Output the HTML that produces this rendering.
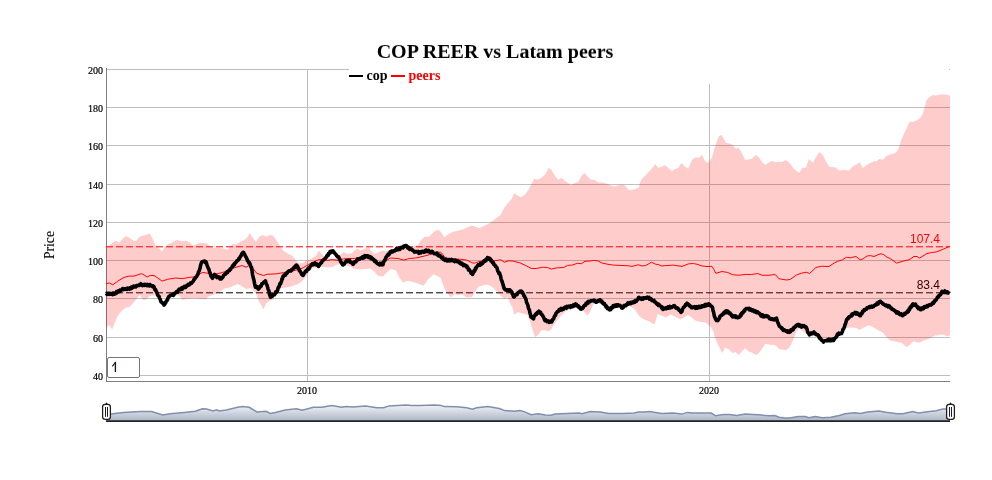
<!DOCTYPE html><html><head><meta charset="utf-8"><style>
html,body{margin:0;padding:0;background:#fff}body{width:992px;height:480px;overflow:hidden;position:relative;font-family:"Liberation Serif",serif}
.a{position:absolute;white-space:nowrap;will-change:transform}.yl{position:absolute;will-change:transform;-webkit-text-stroke:0.2px #000;left:53px;width:50px;text-align:right;font-size:10px;line-height:normal}.ll{display:inline-block;position:relative;bottom:.5ex;padding-left:1em;height:1px;border-bottom-width:2px;border-bottom-style:solid}.xl{position:absolute;will-change:transform;-webkit-text-stroke:0.2px #000;width:60px;text-align:center;font-size:10px;top:385px}
</style></head><body>
<svg width="992" height="480" viewBox="0 0 992 480" style="position:absolute;left:0;top:0;will-change:transform"><rect x="107" y="69" width="843" height="1" fill="#bebebe"/><rect x="107" y="107" width="843" height="1" fill="#bebebe"/><rect x="107" y="145" width="843" height="1" fill="#bebebe"/><rect x="107" y="184" width="843" height="1" fill="#bebebe"/><rect x="107" y="222" width="843" height="1" fill="#bebebe"/><rect x="107" y="260" width="843" height="1" fill="#bebebe"/><rect x="107" y="298" width="843" height="1" fill="#bebebe"/><rect x="107" y="337" width="843" height="1" fill="#bebebe"/><rect x="107" y="375" width="843" height="1" fill="#bebebe"/><rect x="307" y="69" width="1" height="312" fill="#bebebe"/><rect x="709" y="69" width="1" height="312" fill="#bebebe"/><rect x="106" y="68" width="1" height="314" fill="#808080"/><rect x="106" y="381" width="844" height="1" fill="#808080"/><line x1="106" y1="246.8" x2="950" y2="246.8" stroke="#ff0000" stroke-width="1" stroke-dasharray="7 3"/><line x1="106" y1="292.8" x2="950" y2="292.8" stroke="#000" stroke-width="1" stroke-dasharray="7 3"/><text x="940" y="242.6" text-anchor="end" font-family="Liberation Sans" font-size="12" fill="#ff0000">107.4</text><text x="940" y="288.6" text-anchor="end" font-family="Liberation Sans" font-size="12" fill="#000">83.4</text><path d="M106.00,246.30 L109.60,245.25 L111.50,243.60 L115.25,240.90 L116.40,241.10 L119.00,243.00 L122.00,239.60 L125.75,236.00 L128.50,237.20 L133.40,240.50 L135.90,241.10 L139.60,236.75 L144.00,235.25 L147.10,234.50 L149.60,233.25 L152.10,237.40 L155.25,244.90 L159.00,248.00 L162.10,251.50 L164.00,248.60 L167.75,244.25 L172.10,242.40 L176.50,240.10 L181.50,240.90 L186.50,241.10 L189.60,242.40 L192.75,245.50 L196.50,244.25 L199.00,243.00 L204.00,243.00 L207.10,243.60 L209.60,246.10 L212.75,247.40 L219.00,248.00 L224.00,248.60 L227.75,249.90 L229.75,247.00 L232.90,243.90 L236.00,244.50 L239.75,242.00 L244.75,239.50 L247.25,237.60 L249.75,233.00 L252.25,237.00 L256.00,242.00 L259.10,237.00 L262.25,235.10 L266.60,236.75 L269.75,235.10 L272.90,235.50 L276.00,239.50 L279.75,245.75 L283.50,250.75 L288.50,253.90 L292.25,255.75 L295.40,259.50 L298.50,263.25 L302.25,263.25 L306.00,260.75 L311.00,258.90 L316.00,255.75 L319.10,250.50 L321.00,253.25 L326.00,258.25 L333.50,259.50 L338.50,256.40 L343.50,252.00 L347.25,253.90 L351.75,253.25 L355.50,249.50 L358.00,248.90 L360.50,250.75 L364.25,248.90 L368.60,247.00 L371.10,250.75 L374.25,253.90 L379.25,252.00 L383.00,250.50 L385.50,251.40 L392.00,249.00 L398.00,248.50 L405.00,247.50 L412.00,247.00 L418.00,245.10 L420.50,240.75 L424.25,237.00 L429.25,236.40 L434.25,231.40 L438.00,229.75 L441.10,232.00 L444.25,237.60 L448.00,234.50 L453.00,231.75 L458.00,230.75 L463.00,229.50 L468.00,227.00 L471.75,225.50 L475.00,226.60 L479.40,228.25 L483.75,226.00 L488.75,223.75 L492.50,221.00 L496.25,217.90 L500.60,215.00 L504.40,207.50 L507.50,203.75 L511.25,199.40 L514.40,193.10 L517.50,195.60 L520.60,197.25 L524.40,195.00 L528.10,190.60 L531.25,184.40 L534.40,178.50 L537.50,179.75 L541.25,178.10 L545.00,174.40 L548.75,168.10 L551.25,169.40 L554.40,175.00 L558.10,180.00 L561.25,177.75 L565.00,181.00 L571.25,185.00 L575.00,182.75 L578.10,181.90 L581.25,176.25 L584.40,173.10 L588.10,176.90 L591.25,180.00 L594.50,179.75 L597.60,182.25 L602.00,182.50 L608.25,184.00 L610.75,185.60 L614.50,186.50 L618.25,185.25 L622.00,184.40 L625.10,185.60 L628.25,189.40 L631.40,190.25 L635.10,189.00 L638.90,187.50 L640.10,182.50 L642.00,178.75 L645.75,175.00 L650.10,170.60 L653.25,166.90 L655.10,164.00 L658.25,168.10 L662.00,166.50 L665.10,165.25 L668.25,168.10 L672.00,171.00 L675.10,169.00 L678.25,168.10 L681.40,163.10 L684.50,166.25 L688.25,168.75 L692.00,159.75 L695.75,157.25 L698.90,158.10 L702.00,154.75 L705.10,161.25 L708.25,163.10 L712.00,157.50 L714.00,150.00 L716.50,142.50 L719.00,136.25 L721.50,134.75 L723.40,138.10 L725.90,142.75 L730.25,143.75 L732.75,145.00 L735.90,148.75 L738.40,147.50 L741.50,152.50 L745.25,160.00 L751.50,159.00 L755.90,155.00 L759.00,157.50 L762.75,163.10 L765.25,165.00 L769.00,162.50 L772.10,161.00 L775.25,161.90 L782.10,161.90 L785.90,160.00 L789.00,162.50 L794.00,168.75 L799.00,173.10 L802.75,167.50 L805.90,167.75 L809.00,159.00 L812.75,163.10 L816.50,156.25 L819.60,151.90 L822.75,155.00 L826.50,162.50 L829.60,166.90 L835.25,167.25 L839.00,170.60 L844.00,170.00 L849.00,170.60 L852.75,166.50 L856.50,164.40 L859.60,162.25 L862.75,168.10 L866.50,165.00 L870.25,163.10 L874.00,161.25 L876.50,161.25 L879.60,158.75 L882.75,159.75 L886.50,156.00 L890.25,154.40 L895.25,153.10 L897.10,151.25 L899.00,147.50 L900.90,141.25 L903.40,135.00 L906.50,128.75 L909.60,121.50 L912.75,121.90 L916.50,120.60 L920.25,118.10 L922.75,113.75 L924.60,107.50 L926.50,100.00 L929.00,97.50 L932.75,95.00 L935.25,95.60 L937.10,95.25 L940.25,94.40 L946.50,94.40 L949.00,95.60 L950.00,96.25 L950.00,335.60 L946.50,336.25 L943.40,334.40 L940.25,334.75 L935.25,335.60 L929.00,338.75 L924.00,340.60 L919.00,342.75 L913.40,341.25 L910.25,344.40 L906.50,346.90 L901.50,342.75 L895.25,341.50 L890.25,340.60 L886.50,336.90 L882.75,332.50 L877.75,330.00 L872.75,326.90 L868.40,325.25 L864.00,327.50 L859.60,330.00 L856.50,328.10 L850.25,327.50 L845.25,328.10 L841.50,331.00 L837.00,333.00 L833.00,338.00 L828.00,338.00 L823.00,339.00 L818.00,333.00 L814.00,331.00 L809.60,338.75 L807.10,335.00 L804.00,331.90 L799.00,328.75 L796.50,331.25 L794.00,337.50 L791.50,343.75 L789.00,348.10 L785.90,350.00 L782.10,349.40 L779.00,349.00 L775.25,345.00 L770.25,344.75 L765.25,343.75 L762.10,348.75 L759.00,353.10 L755.90,355.00 L751.50,352.50 L748.40,351.25 L745.25,348.10 L742.10,351.25 L739.00,355.00 L735.25,351.90 L732.75,353.10 L729.00,349.40 L725.25,347.50 L722.10,353.10 L719.60,348.10 L716.50,341.25 L714.00,335.00 L713.90,332.00 L710.75,327.00 L705.75,322.60 L700.75,322.00 L695.75,320.75 L688.25,315.10 L680.75,319.50 L675.75,317.00 L670.75,314.50 L665.75,317.60 L662.00,315.75 L657.60,313.90 L654.50,324.50 L649.50,321.40 L643.25,318.90 L639.50,316.40 L634.50,308.90 L629.50,305.75 L623.00,305.50 L618.00,304.00 L614.00,304.00 L608.00,306.00 L603.00,302.00 L599.50,303.90 L595.75,302.60 L593.10,304.40 L590.00,311.90 L587.50,315.60 L583.75,311.25 L580.00,308.75 L575.00,307.50 L570.00,309.40 L565.00,311.90 L561.25,315.60 L557.50,320.00 L553.75,324.40 L551.25,329.40 L548.10,331.50 L545.00,330.00 L541.25,330.60 L537.50,335.60 L535.00,336.90 L532.50,329.40 L530.00,321.25 L527.50,315.00 L523.75,313.75 L517.50,311.90 L514.40,315.00 L512.50,307.50 L510.60,304.50 L507.50,297.00 L504.40,298.90 L500.00,295.10 L496.25,290.75 L492.50,287.00 L487.50,284.50 L482.50,285.50 L478.75,286.40 L475.00,292.00 L471.75,297.00 L466.75,297.60 L461.75,293.90 L458.00,295.10 L454.25,293.90 L451.10,297.60 L448.00,293.90 L444.25,288.25 L440.50,277.60 L433.60,274.25 L428.00,279.50 L423.60,285.75 L419.25,283.90 L413.00,282.00 L407.40,280.75 L403.00,282.60 L399.25,277.60 L396.10,270.50 L391.10,268.90 L386.75,272.60 L383.00,276.40 L378.00,276.00 L374.25,271.40 L370.50,268.50 L363.00,269.25 L355.50,269.25 L349.75,266.40 L346.00,265.10 L339.75,263.90 L336.00,265.10 L332.25,267.00 L327.25,267.60 L323.50,267.00 L317.25,267.00 L312.25,268.25 L308.50,272.60 L304.75,278.25 L301.00,282.00 L297.25,284.50 L291.00,286.40 L286.00,287.60 L281.00,288.25 L276.00,294.50 L273.50,299.50 L269.75,300.75 L266.00,303.25 L263.50,309.50 L261.00,304.50 L258.50,300.75 L256.00,293.25 L251.00,288.25 L246.00,288.90 L242.25,286.40 L237.25,283.90 L231.00,287.00 L227.75,288.10 L224.00,288.75 L219.00,291.90 L214.00,294.40 L209.00,296.25 L205.25,299.40 L201.50,298.75 L194.00,298.10 L186.50,298.75 L182.75,300.00 L179.00,295.60 L170.25,295.00 L165.00,297.50 L160.00,297.00 L155.25,295.60 L150.25,295.60 L148.40,297.50 L145.25,300.00 L142.75,299.40 L139.60,295.00 L137.10,298.10 L134.00,301.90 L129.00,307.50 L126.50,306.90 L122.75,310.00 L119.00,313.75 L115.25,321.25 L112.10,329.40 L109.60,325.00 L106.00,327.50 Z" fill="rgba(255,0,0,0.2)"/><polyline points="106.00,283.60 109.60,283.00 112.75,284.90 117.75,281.10 124.00,277.40 129.00,276.10 134.00,276.10 141.50,273.60 144.00,274.90 147.10,277.00 150.25,275.50 154.00,275.50 157.75,278.00 162.10,281.10 167.75,279.25 175.25,278.00 182.75,278.60 189.00,277.40 195.25,276.75 199.00,274.25 202.75,272.40 207.75,273.25 212.75,274.90 217.75,273.60 222.75,272.40 226.50,271.00 231.00,268.90 236.00,267.25 242.25,265.50 246.00,267.25 249.75,265.10 252.90,268.25 256.60,273.25 263.50,275.50 267.25,274.25 276.00,273.90 283.50,272.60 291.00,271.40 298.50,269.50 303.50,267.60 308.50,264.50 313.50,262.00 318.50,259.75 323.50,259.50 327.25,260.50 332.25,259.50 338.50,260.50 343.50,258.90 349.75,258.50 354.25,258.50 360.50,257.25 366.75,256.40 371.75,258.90 376.75,262.60 381.75,262.25 385.50,260.75 390.50,258.00 398.00,258.50 403.60,260.10 409.25,258.50 415.50,258.00 423.00,256.40 429.25,254.75 435.50,252.00 440.50,252.25 443.00,254.50 444.90,257.60 451.75,258.90 460.50,259.25 466.75,260.10 471.75,262.60 474.40,263.25 478.75,261.60 483.75,260.75 488.75,259.75 495.00,260.75 500.60,259.75 504.40,262.25 508.75,260.75 513.75,261.25 520.00,262.90 526.25,265.75 531.25,268.50 536.25,268.50 542.50,267.25 547.50,267.50 551.25,269.10 556.25,267.90 563.75,267.50 567.50,265.40 572.50,265.00 577.50,263.25 581.25,263.75 585.00,261.25 590.00,261.00 593.75,260.40 598.25,261.00 602.00,263.00 607.00,264.10 613.25,265.10 622.00,265.50 628.25,265.75 632.00,266.40 638.25,264.75 642.00,266.00 645.75,265.50 651.40,262.25 655.75,264.25 658.25,264.50 661.40,266.00 667.00,265.50 673.25,265.10 682.00,266.40 688.25,263.90 693.25,263.50 697.00,264.25 702.00,266.00 707.00,266.50 712.00,266.40 713.90,269.50 715.75,273.25 722.10,271.50 727.75,272.50 732.75,274.75 739.00,275.25 745.25,274.40 751.50,274.50 757.75,273.50 762.10,275.25 769.00,275.25 775.25,274.50 779.00,278.75 786.50,280.00 790.25,279.40 796.50,275.00 801.50,273.10 806.50,272.25 809.60,273.50 815.90,267.50 821.50,266.25 829.00,266.50 834.00,263.10 837.75,261.25 842.10,260.00 846.50,257.25 850.25,257.75 855.90,256.50 860.25,259.75 862.75,259.00 867.10,256.00 870.25,255.60 874.00,256.50 880.25,253.75 883.40,254.40 887.10,257.25 890.25,258.50 896.50,263.10 902.75,261.25 909.00,259.75 914.00,256.50 917.10,256.50 919.60,258.10 926.50,253.75 931.50,252.50 936.50,251.90 942.75,249.40 949.60,246.25" fill="none" stroke="#ff0000" stroke-width="1" stroke-linejoin="round"/><polyline points="106.00,293.68 106.50,293.41 107.00,294.34 107.50,293.34 108.00,294.21 108.50,293.94 109.00,293.42 109.50,294.27 110.00,293.46 110.50,294.21 111.00,293.59 111.50,293.66 112.00,294.07 112.50,294.61 113.00,293.15 113.50,293.14 114.00,293.68 114.50,294.07 115.00,293.21 115.50,292.69 116.00,293.55 116.50,291.68 117.00,292.90 117.50,291.63 118.00,291.12 118.50,290.82 119.00,290.92 119.50,291.58 120.00,290.19 120.50,290.66 121.00,290.52 121.50,289.79 122.00,289.86 122.50,288.74 123.00,288.57 123.50,288.76 124.00,289.54 124.50,289.02 125.00,288.74 125.50,289.16 126.00,288.85 126.50,288.50 127.00,289.32 127.50,289.07 128.00,288.18 128.50,288.71 129.00,288.55 129.50,289.02 130.00,288.59 130.50,287.64 131.00,288.72 131.50,287.01 132.00,287.39 132.50,287.84 133.00,286.59 133.50,287.04 134.00,286.07 134.50,287.00 135.00,286.98 135.50,286.43 136.00,286.78 136.50,285.56 137.00,286.05 137.50,285.67 138.00,285.44 138.50,285.02 139.00,285.51 139.50,285.50 140.00,284.45 140.50,284.74 141.00,283.74 141.50,284.98 142.00,284.96 142.50,285.67 143.00,285.45 143.50,284.56 144.00,284.83 144.50,285.43 145.00,284.35 145.50,285.18 146.00,284.65 146.50,284.56 147.00,284.46 147.50,285.73 148.00,284.58 148.50,284.80 149.00,285.05 149.50,285.92 150.00,284.50 150.50,285.16 151.00,285.34 151.50,285.94 152.00,286.15 152.50,286.57 153.00,285.84 153.50,286.42 154.00,286.65 154.50,288.67 155.00,289.88 155.50,289.51 156.00,290.64 156.50,291.82 157.00,292.90 157.50,294.43 158.00,295.62 158.50,295.95 159.00,296.41 159.50,298.07 160.00,298.90 160.50,300.18 161.00,301.80 161.50,302.24 162.00,302.43 162.50,303.11 163.00,303.72 163.50,303.10 164.00,305.12 164.50,304.29 165.00,303.85 165.50,303.10 166.00,301.75 166.50,301.15 167.00,300.01 167.50,300.06 168.00,298.06 168.50,297.09 169.00,296.38 169.50,296.04 170.00,296.11 170.50,295.34 171.00,295.00 171.50,295.02 172.00,294.68 172.50,294.90 173.00,294.05 173.50,295.32 174.00,294.61 174.50,293.33 175.00,293.07 175.50,292.81 176.00,292.40 176.50,291.52 177.00,292.39 177.50,292.21 178.00,290.82 178.50,290.41 179.00,289.25 179.50,289.03 180.00,289.22 180.50,288.83 181.00,289.59 181.50,288.14 182.00,287.64 182.50,289.06 183.00,288.05 183.50,287.11 184.00,287.58 184.50,286.35 185.00,286.95 185.50,287.46 186.00,286.95 186.50,286.35 187.00,285.27 187.50,285.16 188.00,284.50 188.50,285.29 189.00,284.56 189.50,284.70 190.00,283.59 190.50,282.99 191.00,283.52 191.50,283.30 192.00,282.53 192.50,281.92 193.00,281.43 193.50,280.79 194.00,279.37 194.50,279.41 195.00,278.62 195.50,277.54 196.00,277.04 196.50,277.00 197.00,275.59 197.50,274.99 198.00,274.08 198.50,271.79 199.00,271.29 199.50,269.88 200.00,268.32 200.50,265.76 201.00,264.00 201.50,262.51 202.00,261.95 202.50,261.47 203.00,261.72 203.50,261.72 204.00,261.11 204.50,260.96 205.00,261.78 205.50,262.54 206.00,261.75 206.50,263.29 207.00,265.15 207.50,266.33 208.00,267.68 208.50,268.61 209.00,269.48 209.50,271.99 210.00,272.45 210.50,274.54 211.00,276.10 211.50,276.31 212.00,277.57 212.50,278.31 213.00,277.29 213.50,275.67 214.00,274.97 214.50,274.40 215.00,275.92 215.50,276.12 216.00,275.30 216.50,276.89 217.00,277.54 217.50,277.23 218.00,276.92 218.50,277.52 219.00,277.01 219.50,277.04 220.00,279.01 220.50,278.67 221.00,278.55 221.50,278.78 222.00,277.38 222.50,277.67 223.00,277.09 223.50,275.48 224.00,275.05 224.50,274.63 225.00,274.03 225.50,274.16 226.00,273.07 226.50,272.85 227.00,271.81 227.50,272.68 228.00,271.15 228.50,270.81 229.00,270.51 229.50,270.56 230.00,269.16 230.50,269.53 231.00,268.25 231.50,267.81 232.00,267.29 232.50,265.88 233.00,266.14 233.50,265.18 234.00,264.11 234.50,264.79 235.00,262.91 235.50,262.70 236.00,262.41 236.50,261.60 237.00,260.69 237.50,260.53 238.00,260.10 238.50,260.01 239.00,258.29 239.50,258.61 240.00,257.25 240.50,256.22 241.00,256.02 241.50,254.46 242.00,253.47 242.50,252.74 243.00,252.31 243.50,252.30 244.00,253.45 244.50,254.09 245.00,255.02 245.50,256.35 246.00,256.91 246.50,258.06 247.00,258.96 247.50,260.69 248.00,261.05 248.50,262.16 249.00,263.07 249.50,262.64 250.00,263.97 250.50,265.62 251.00,267.02 251.50,267.35 252.00,270.53 252.50,274.32 253.00,276.61 253.50,278.79 254.00,280.37 254.50,283.32 255.00,285.41 255.50,287.17 256.00,286.14 256.50,287.45 257.00,287.64 257.50,287.01 258.00,288.64 258.50,289.09 259.00,287.17 259.50,287.90 260.00,286.33 260.50,285.91 261.00,286.23 261.50,285.37 262.00,283.58 262.50,283.58 263.00,283.33 263.50,282.62 264.00,281.96 264.50,281.79 265.00,282.12 265.50,280.81 266.00,283.14 266.50,284.31 267.00,284.92 267.50,286.85 268.00,288.80 268.50,290.23 269.00,291.05 269.50,294.34 270.00,295.62 270.50,297.21 271.00,295.44 271.50,295.52 272.00,294.90 272.50,296.02 273.00,294.90 273.50,294.43 274.00,294.38 274.50,294.68 275.00,293.93 275.50,292.35 276.00,291.57 276.50,292.37 277.00,291.17 277.50,290.53 278.00,288.26 278.50,287.04 279.00,287.01 279.50,285.37 280.00,283.56 280.50,283.96 281.00,282.24 281.50,281.29 282.00,278.75 282.50,278.89 283.00,276.22 283.50,276.40 284.00,275.29 284.50,274.71 285.00,274.72 285.50,275.02 286.00,273.46 286.50,272.83 287.00,273.17 287.50,272.28 288.00,271.67 288.50,271.39 289.00,270.88 289.50,270.84 290.00,270.73 290.50,270.41 291.00,270.92 291.50,269.76 292.00,269.83 292.50,268.94 293.00,268.93 293.50,268.03 294.00,267.84 294.50,266.80 295.00,267.48 295.50,266.54 296.00,265.28 296.50,265.18 297.00,266.60 297.50,266.01 298.00,268.19 298.50,268.39 299.00,269.40 299.50,270.90 300.00,270.90 300.50,271.80 301.00,272.81 301.50,274.04 302.00,273.57 302.50,275.15 303.00,275.36 303.50,274.66 304.00,273.66 304.50,272.99 305.00,271.88 305.50,271.45 306.00,270.76 306.50,271.40 307.00,269.95 307.50,269.21 308.00,268.51 308.50,269.31 309.00,268.81 309.50,267.89 310.00,266.63 310.50,266.00 311.00,265.53 311.50,265.27 312.00,264.16 312.50,264.28 313.00,263.70 313.50,264.71 314.00,264.48 314.50,263.46 315.00,263.00 315.50,264.72 316.00,263.96 316.50,264.46 317.00,264.24 317.50,265.35 318.00,265.93 318.50,266.40 319.00,265.28 319.50,265.24 320.00,263.75 320.50,263.63 321.00,262.73 321.50,262.70 322.00,261.47 322.50,260.81 323.00,260.65 323.50,259.85 324.00,259.82 324.50,259.05 325.00,258.78 325.50,257.95 326.00,257.39 326.50,257.12 327.00,255.69 327.50,255.01 328.00,255.64 328.50,253.58 329.00,254.06 329.50,253.35 330.00,251.71 330.50,252.58 331.00,252.13 331.50,251.09 332.00,251.41 332.50,251.84 333.00,250.92 333.50,251.91 334.00,252.17 334.50,253.06 335.00,253.48 335.50,254.19 336.00,254.42 336.50,255.64 337.00,255.93 337.50,256.61 338.00,256.45 338.50,256.76 339.00,257.79 339.50,259.05 340.00,259.45 340.50,261.61 341.00,261.97 341.50,262.94 342.00,263.79 342.50,264.74 343.00,264.96 343.50,263.49 344.00,264.32 344.50,263.64 345.00,262.60 345.50,262.06 346.00,261.69 346.50,260.53 347.00,261.65 347.50,260.69 348.00,260.29 348.50,260.54 349.00,261.29 349.50,260.26 350.00,261.42 350.50,262.33 351.00,261.95 351.50,262.23 352.00,262.89 352.50,263.75 353.00,264.38 353.50,263.67 354.00,263.28 354.50,261.82 355.00,261.51 355.50,261.26 356.00,261.70 356.50,260.47 357.00,260.50 357.50,259.06 358.00,258.71 358.50,258.87 359.00,259.38 359.50,259.20 360.00,258.96 360.50,258.05 361.00,258.24 361.50,257.94 362.00,257.73 362.50,256.88 363.00,258.07 363.50,256.60 364.00,257.79 364.50,257.50 365.00,255.63 365.50,256.21 366.00,256.65 366.50,256.70 367.00,255.79 367.50,255.71 368.00,255.86 368.50,257.43 369.00,256.36 369.50,257.28 370.00,256.74 370.50,257.68 371.00,258.71 371.50,257.48 372.00,258.97 372.50,258.66 373.00,259.60 373.50,259.83 374.00,259.54 374.50,261.30 375.00,261.12 375.50,260.84 376.00,261.37 376.50,262.81 377.00,263.29 377.50,263.58 378.00,263.85 378.50,264.16 379.00,264.05 379.50,264.93 380.00,263.36 380.50,264.65 381.00,264.75 381.50,263.40 382.00,264.79 382.50,264.34 383.00,264.62 383.50,262.39 384.00,261.41 384.50,260.32 385.00,260.28 385.50,258.41 386.00,257.37 386.50,256.87 387.00,255.97 387.50,254.94 388.00,254.41 388.50,255.10 389.00,253.49 389.50,254.03 390.00,252.17 390.50,251.58 391.00,251.79 391.50,250.99 392.00,251.10 392.50,251.92 393.00,251.57 393.50,251.21 394.00,250.66 394.50,250.94 395.00,250.77 395.50,249.84 396.00,250.03 396.50,248.71 397.00,249.83 397.50,249.21 398.00,249.64 398.50,249.33 399.00,248.57 399.50,247.96 400.00,249.29 400.50,247.60 401.00,247.97 401.50,247.48 402.00,247.15 402.50,247.69 403.00,247.87 403.50,246.33 404.00,246.79 404.50,245.90 405.00,246.11 405.50,245.56 406.00,245.48 406.50,245.81 407.00,246.22 407.50,247.81 408.00,247.41 408.50,247.25 409.00,248.81 409.50,249.33 410.00,248.71 410.50,248.52 411.00,248.98 411.50,249.16 412.00,249.98 412.50,249.90 413.00,250.53 413.50,250.69 414.00,251.38 414.50,252.08 415.00,251.96 415.50,251.48 416.00,251.61 416.50,251.94 417.00,251.80 417.50,251.86 418.00,251.49 418.50,252.01 419.00,253.38 419.50,251.86 420.00,252.42 420.50,252.52 421.00,252.82 421.50,251.53 422.00,251.51 422.50,251.35 423.00,251.49 423.50,251.45 424.00,252.25 424.50,251.93 425.00,251.85 425.50,250.20 426.00,250.09 426.50,251.19 427.00,251.52 427.50,250.89 428.00,251.22 428.50,250.29 429.00,251.12 429.50,252.21 430.00,252.15 430.50,252.33 431.00,252.66 431.50,251.48 432.00,251.39 432.50,251.66 433.00,252.52 433.50,252.99 434.00,253.65 434.50,253.44 435.00,253.50 435.50,253.90 436.00,253.54 436.50,253.90 437.00,253.24 437.50,254.91 438.00,254.25 438.50,255.82 439.00,255.66 439.50,255.38 440.00,255.40 440.50,255.95 441.00,257.14 441.50,257.74 442.00,257.18 442.50,257.60 443.00,258.91 443.50,259.51 444.00,259.65 444.50,259.60 445.00,260.28 445.50,259.22 446.00,259.74 446.50,260.03 447.00,260.93 447.50,260.36 448.00,260.79 448.50,260.06 449.00,259.62 449.50,259.64 450.00,260.93 450.50,260.47 451.00,259.84 451.50,259.41 452.00,260.36 452.50,260.76 453.00,260.39 453.50,260.18 454.00,261.01 454.50,261.56 455.00,260.39 455.50,260.13 456.00,260.76 456.50,261.00 457.00,261.56 457.50,260.77 458.00,261.93 458.50,262.14 459.00,262.03 459.50,261.80 460.00,263.49 460.50,262.61 461.00,263.84 461.50,263.09 462.00,263.38 462.50,264.66 463.00,264.13 463.50,265.57 464.00,265.00 464.50,264.70 465.00,265.02 465.50,265.62 466.00,266.32 466.50,267.08 467.00,266.16 467.50,267.40 468.00,267.87 468.50,270.03 469.00,269.33 469.50,269.96 470.00,270.69 470.50,271.69 471.00,273.01 471.50,273.38 472.00,273.52 472.50,274.40 473.00,273.53 473.50,271.69 474.00,270.68 474.50,271.28 475.00,270.19 475.50,268.16 476.00,268.55 476.50,267.28 477.00,266.52 477.50,265.70 478.00,265.09 478.50,264.49 479.00,264.67 479.50,264.49 480.00,265.27 480.50,263.46 481.00,264.67 481.50,262.99 482.00,262.95 482.50,263.48 483.00,263.03 483.50,261.89 484.00,260.75 484.50,261.07 485.00,260.44 485.50,260.98 486.00,259.22 486.50,259.08 487.00,259.60 487.50,257.59 488.00,257.83 488.50,258.79 489.00,259.11 489.50,258.22 490.00,258.61 490.50,259.07 491.00,261.02 491.50,260.24 492.00,261.59 492.50,262.58 493.00,262.29 493.50,262.89 494.00,264.84 494.50,264.95 495.00,265.03 495.50,266.56 496.00,266.56 496.50,267.35 497.00,267.87 497.50,270.22 498.00,271.52 498.50,272.02 499.00,273.58 499.50,272.93 500.00,274.31 500.50,275.75 501.00,278.35 501.50,280.25 502.00,281.14 502.50,282.80 503.00,284.61 503.50,286.21 504.00,288.48 504.50,288.37 505.00,289.68 505.50,289.76 506.00,290.10 506.50,290.20 507.00,290.10 507.50,289.79 508.00,289.88 508.50,290.06 509.00,290.92 509.50,289.76 510.00,290.08 510.50,291.18 511.00,291.01 511.50,291.58 512.00,292.42 512.50,294.25 513.00,294.74 513.50,296.82 514.00,296.94 514.50,296.83 515.00,295.22 515.50,294.60 516.00,294.32 516.50,294.74 517.00,294.76 517.50,293.68 518.00,292.69 518.50,292.41 519.00,292.18 519.50,291.67 520.00,291.20 520.50,291.74 521.00,291.79 521.50,291.18 522.00,292.84 522.50,292.23 523.00,293.74 523.50,294.40 524.00,296.08 524.50,296.12 525.00,297.23 525.50,298.24 526.00,299.46 526.50,302.26 527.00,303.20 527.50,304.23 528.00,305.84 528.50,308.39 529.00,309.14 529.50,310.39 530.00,313.18 530.50,314.65 531.00,317.01 531.50,316.42 532.00,317.35 532.50,318.24 533.00,318.55 533.50,318.95 534.00,316.52 534.50,316.12 535.00,314.95 535.50,314.22 536.00,314.78 536.50,313.48 537.00,313.75 537.50,312.40 538.00,312.94 538.50,311.84 539.00,311.15 539.50,311.94 540.00,312.96 540.50,312.16 541.00,313.75 541.50,314.50 542.00,314.49 542.50,315.66 543.00,316.15 543.50,317.17 544.00,318.16 544.50,319.68 545.00,320.67 545.50,320.07 546.00,319.92 546.50,320.69 547.00,321.52 547.50,320.83 548.00,321.26 548.50,321.17 549.00,322.35 549.50,322.01 550.00,321.24 550.50,321.42 551.00,322.06 551.50,322.01 552.00,321.42 552.50,319.67 553.00,319.05 553.50,319.02 554.00,317.48 554.50,316.21 555.00,315.22 555.50,315.35 556.00,313.16 556.50,313.00 557.00,312.01 557.50,311.50 558.00,311.68 558.50,311.30 559.00,309.77 559.50,309.31 560.00,310.11 560.50,309.01 561.00,308.49 561.50,309.94 562.00,308.92 562.50,309.48 563.00,308.54 563.50,309.21 564.00,308.26 564.50,307.53 565.00,307.08 565.50,307.85 566.00,307.82 566.50,308.12 567.00,306.45 567.50,307.22 568.00,306.69 568.50,306.85 569.00,306.12 569.50,306.29 570.00,306.64 570.50,307.29 571.00,305.74 571.50,306.28 572.00,306.63 572.50,306.72 573.00,305.12 573.50,304.78 574.00,306.04 574.50,305.89 575.00,304.79 575.50,303.81 576.00,305.17 576.50,304.34 577.00,305.77 577.50,305.75 578.00,306.61 578.50,305.91 579.00,307.53 579.50,307.01 580.00,307.83 580.50,308.92 581.00,309.19 581.50,308.33 582.00,308.69 582.50,308.32 583.00,307.83 583.50,306.89 584.00,305.72 584.50,305.24 585.00,305.40 585.50,305.30 586.00,303.35 586.50,303.87 587.00,303.81 587.50,302.10 588.00,303.13 588.50,301.42 589.00,301.99 589.50,301.71 590.00,301.66 590.50,300.90 591.00,300.92 591.50,301.02 592.00,300.55 592.50,300.79 593.00,300.59 593.50,300.76 594.00,300.20 594.50,301.46 595.00,301.41 595.50,301.14 596.00,302.28 596.50,302.32 597.00,301.56 597.50,300.89 598.00,301.25 598.50,300.41 599.00,300.28 599.50,300.65 600.00,299.87 600.50,300.91 601.00,301.45 601.50,301.02 602.00,302.50 602.50,301.92 603.00,303.51 603.50,304.00 604.00,304.05 604.50,303.76 605.00,305.11 605.50,305.41 606.00,306.98 606.50,306.05 607.00,307.88 607.50,308.66 608.00,308.72 608.50,309.09 609.00,308.20 609.50,309.84 610.00,309.19 610.50,309.60 611.00,309.11 611.50,307.33 612.00,308.03 612.50,307.87 613.00,305.89 613.50,305.98 614.00,306.43 614.50,305.27 615.00,306.51 615.50,305.31 616.00,306.20 616.50,304.91 617.00,305.47 617.50,306.14 618.00,304.77 618.50,305.12 619.00,305.80 619.50,305.71 620.00,305.44 620.50,305.95 621.00,306.16 621.50,307.80 622.00,307.58 622.50,308.21 623.00,306.53 623.50,307.27 624.00,305.70 624.50,306.08 625.00,305.90 625.50,305.03 626.00,305.58 626.50,304.64 627.00,304.32 627.50,304.49 628.00,302.72 628.50,304.09 629.00,303.33 629.50,302.81 630.00,303.44 630.50,302.38 631.00,303.58 631.50,302.74 632.00,302.25 632.50,302.88 633.00,302.20 633.50,301.62 634.00,302.54 634.50,301.19 635.00,302.15 635.50,300.70 636.00,300.97 636.50,301.17 637.00,300.02 637.50,299.74 638.00,298.68 638.50,297.69 639.00,297.43 639.50,297.71 640.00,298.62 640.50,298.37 641.00,298.59 641.50,299.35 642.00,298.05 642.50,298.30 643.00,299.14 643.50,297.98 644.00,297.81 644.50,298.31 645.00,297.74 645.50,298.06 646.00,297.69 646.50,298.21 647.00,298.09 647.50,297.26 648.00,297.89 648.50,297.71 649.00,297.42 649.50,299.17 650.00,298.24 650.50,298.39 651.00,298.60 651.50,299.90 652.00,300.63 652.50,300.79 653.00,300.42 653.50,300.51 654.00,300.43 654.50,301.95 655.00,302.17 655.50,302.17 656.00,303.07 656.50,303.09 657.00,304.35 657.50,304.36 658.00,303.86 658.50,305.45 659.00,304.34 659.50,305.66 660.00,305.87 660.50,306.01 661.00,306.13 661.50,307.86 662.00,306.92 662.50,308.33 663.00,309.47 663.50,308.19 664.00,308.16 664.50,308.77 665.00,308.46 665.50,308.57 666.00,308.75 666.50,307.47 667.00,307.58 667.50,307.44 668.00,306.85 668.50,308.25 669.00,307.97 669.50,307.75 670.00,306.38 670.50,307.79 671.00,307.51 671.50,306.91 672.00,307.32 672.50,306.70 673.00,306.19 673.50,305.88 674.00,306.01 674.50,305.57 675.00,306.44 675.50,307.52 676.00,307.75 676.50,308.35 677.00,308.45 677.50,307.98 678.00,308.83 678.50,309.03 679.00,310.16 679.50,310.17 680.00,310.20 680.50,311.37 681.00,312.44 681.50,311.29 682.00,311.47 682.50,308.91 683.00,308.34 683.50,307.29 684.00,307.20 684.50,306.55 685.00,305.79 685.50,304.63 686.00,305.22 686.50,303.83 687.00,303.26 687.50,304.06 688.00,303.88 688.50,304.49 689.00,304.93 689.50,305.99 690.00,305.56 690.50,306.72 691.00,306.96 691.50,307.66 692.00,306.97 692.50,307.56 693.00,307.35 693.50,306.94 694.00,306.84 694.50,307.65 695.00,306.74 695.50,308.30 696.00,306.93 696.50,306.66 697.00,306.74 697.50,308.16 698.00,307.05 698.50,306.63 699.00,306.36 699.50,306.32 700.00,307.44 700.50,307.27 701.00,307.26 701.50,307.14 702.00,305.74 702.50,306.50 703.00,305.90 703.50,306.53 704.00,306.34 704.50,306.28 705.00,304.60 705.50,305.86 706.00,305.81 706.50,305.80 707.00,304.22 707.50,304.33 708.00,304.09 708.50,303.88 709.00,305.28 709.50,305.14 710.00,304.76 710.50,305.69 711.00,306.09 711.50,306.22 712.00,306.63 712.50,307.38 713.00,310.56 713.50,311.86 714.00,314.37 714.50,316.86 715.00,317.38 715.50,319.04 716.00,319.70 716.50,320.45 717.00,319.80 717.50,319.69 718.00,320.50 718.50,319.01 719.00,318.97 719.50,317.88 720.00,316.16 720.50,316.18 721.00,315.55 721.50,315.49 722.00,314.35 722.50,314.62 723.00,313.94 723.50,312.99 724.00,313.78 724.50,312.01 725.00,312.95 725.50,311.41 726.00,310.73 726.50,310.71 727.00,312.02 727.50,312.71 728.00,311.25 728.50,312.43 729.00,312.73 729.50,313.57 730.00,312.93 730.50,313.99 731.00,314.22 731.50,315.60 732.00,315.07 732.50,316.80 733.00,315.91 733.50,315.89 734.00,316.86 734.50,316.60 735.00,316.00 735.50,317.05 736.00,316.15 736.50,317.52 737.00,317.45 737.50,317.72 738.00,317.53 738.50,317.14 739.00,317.32 739.50,316.64 740.00,316.87 740.50,314.76 741.00,315.53 741.50,313.31 742.00,312.97 742.50,312.41 743.00,312.93 743.50,311.62 744.00,310.82 744.50,311.14 745.00,309.38 745.50,309.20 746.00,308.74 746.50,308.56 747.00,308.75 747.50,308.74 748.00,308.40 748.50,308.55 749.00,308.43 749.50,309.86 750.00,309.72 750.50,310.06 751.00,309.22 751.50,309.89 752.00,310.69 752.50,310.54 753.00,309.93 753.50,310.73 754.00,311.69 754.50,310.73 755.00,310.84 755.50,311.24 756.00,312.17 756.50,312.62 757.00,311.58 757.50,311.78 758.00,312.25 758.50,312.81 759.00,313.57 759.50,313.34 760.00,314.05 760.50,314.21 761.00,316.04 761.50,316.01 762.00,314.95 762.50,316.56 763.00,315.08 763.50,315.65 764.00,316.80 764.50,316.52 765.00,316.47 765.50,316.00 766.00,315.64 766.50,316.50 767.00,315.86 767.50,316.35 768.00,316.99 768.50,316.67 769.00,317.64 769.50,318.66 770.00,318.80 770.50,318.77 771.00,319.32 771.50,319.33 772.00,318.69 772.50,319.46 773.00,319.03 773.50,319.57 774.00,319.81 774.50,318.88 775.00,319.08 775.50,319.33 776.00,318.67 776.50,318.26 777.00,320.36 777.50,321.85 778.00,322.87 778.50,323.95 779.00,325.43 779.50,326.33 780.00,326.90 780.50,327.06 781.00,327.30 781.50,328.36 782.00,327.89 782.50,328.97 783.00,330.11 783.50,330.42 784.00,330.44 784.50,329.92 785.00,330.41 785.50,330.63 786.00,331.10 786.50,330.89 787.00,331.54 787.50,332.17 788.00,330.99 788.50,332.01 789.00,332.40 789.50,331.37 790.00,331.22 790.50,331.75 791.00,329.74 791.50,330.31 792.00,329.29 792.50,330.07 793.00,329.91 793.50,328.57 794.00,327.25 794.50,327.52 795.00,326.89 795.50,326.63 796.00,325.69 796.50,325.34 797.00,325.11 797.50,324.61 798.00,324.62 798.50,325.79 799.00,324.68 799.50,325.74 800.00,325.43 800.50,326.30 801.00,325.36 801.50,327.12 802.00,326.06 802.50,325.60 803.00,326.07 803.50,326.36 804.00,325.74 804.50,326.55 805.00,326.62 805.50,327.20 806.00,326.88 806.50,327.93 807.00,329.07 807.50,331.21 808.00,332.77 808.50,333.24 809.00,333.89 809.50,334.75 810.00,333.83 810.50,333.31 811.00,332.97 811.50,333.95 812.00,333.82 812.50,333.31 813.00,332.82 813.50,332.80 814.00,332.01 814.50,333.67 815.00,332.90 815.50,333.75 816.00,334.41 816.50,334.74 817.00,334.44 817.50,334.46 818.00,335.43 818.50,335.36 819.00,337.33 819.50,337.15 820.00,338.74 820.50,338.38 821.00,339.26 821.50,339.73 822.00,340.73 822.50,340.99 823.00,340.91 823.50,342.01 824.00,341.03 824.50,340.78 825.00,340.69 825.50,340.82 826.00,340.54 826.50,340.72 827.00,340.57 827.50,339.85 828.00,340.77 828.50,340.64 829.00,339.20 829.50,340.59 830.00,340.73 830.50,340.51 831.00,339.35 831.50,340.60 832.00,340.24 832.50,339.13 833.00,339.00 833.50,340.44 834.00,339.66 834.50,338.68 835.00,338.16 835.50,337.65 836.00,336.91 836.50,336.97 837.00,335.29 837.50,334.03 838.00,334.83 838.50,334.44 839.00,333.12 839.50,334.23 840.00,333.53 840.50,333.64 841.00,333.25 841.50,333.46 842.00,332.27 842.50,331.36 843.00,329.21 843.50,329.10 844.00,327.81 844.50,326.69 845.00,324.64 845.50,323.94 846.00,321.85 846.50,319.83 847.00,319.27 847.50,318.60 848.00,318.74 848.50,317.46 849.00,317.69 849.50,316.61 850.00,316.73 850.50,316.27 851.00,315.88 851.50,316.00 852.00,314.00 852.50,315.04 853.00,313.91 853.50,313.62 854.00,313.35 854.50,313.20 855.00,312.47 855.50,312.78 856.00,314.00 856.50,312.64 857.00,313.89 857.50,314.13 858.00,313.25 858.50,314.50 859.00,314.83 859.50,315.48 860.00,314.59 860.50,315.55 861.00,314.07 861.50,313.39 862.00,313.50 862.50,311.31 863.00,311.91 863.50,311.11 864.00,309.96 864.50,310.59 865.00,309.38 865.50,309.26 866.00,309.04 866.50,309.16 867.00,307.84 867.50,307.93 868.00,307.59 868.50,307.51 869.00,307.69 869.50,306.61 870.00,307.45 870.50,306.57 871.00,306.63 871.50,306.09 872.00,306.39 872.50,307.11 873.00,306.42 873.50,306.55 874.00,305.60 874.50,305.25 875.00,304.90 875.50,305.10 876.00,304.87 876.50,304.82 877.00,303.16 877.50,304.07 878.00,304.04 878.50,303.11 879.00,301.90 879.50,302.03 880.00,301.19 880.50,301.20 881.00,302.34 881.50,302.21 882.00,302.73 882.50,303.40 883.00,304.05 883.50,303.94 884.00,304.38 884.50,304.83 885.00,305.39 885.50,305.52 886.00,305.85 886.50,305.20 887.00,306.20 887.50,306.01 888.00,306.74 888.50,305.73 889.00,306.06 889.50,305.99 890.00,307.50 890.50,308.07 891.00,308.04 891.50,307.96 892.00,309.22 892.50,309.60 893.00,309.63 893.50,309.52 894.00,310.04 894.50,310.70 895.00,310.95 895.50,311.50 896.00,312.14 896.50,312.92 897.00,311.59 897.50,312.77 898.00,312.08 898.50,312.47 899.00,313.97 899.50,313.81 900.00,314.68 900.50,314.09 901.00,313.56 901.50,314.49 902.00,315.11 902.50,315.64 903.00,315.54 903.50,314.45 904.00,314.15 904.50,313.41 905.00,314.21 905.50,313.25 906.00,312.95 906.50,312.53 907.00,311.80 907.50,312.32 908.00,310.61 908.50,311.42 909.00,309.14 909.50,309.84 910.00,307.80 910.50,306.90 911.00,307.46 911.50,305.90 912.00,306.08 912.50,304.39 913.00,303.79 913.50,305.09 914.00,304.98 914.50,305.24 915.00,305.01 915.50,304.10 916.00,305.58 916.50,306.23 917.00,306.28 917.50,307.63 918.00,306.91 918.50,308.69 919.00,308.74 919.50,307.97 920.00,308.48 920.50,309.75 921.00,309.80 921.50,308.22 922.00,308.39 922.50,308.90 923.00,307.63 923.50,308.64 924.00,307.72 924.50,306.70 925.00,307.01 925.50,307.13 926.00,306.64 926.50,306.82 927.00,305.61 927.50,306.54 928.00,305.51 928.50,305.77 929.00,305.49 929.50,304.86 930.00,304.56 930.50,305.03 931.00,305.07 931.50,304.53 932.00,303.89 932.50,303.15 933.00,302.29 933.50,303.31 934.00,302.19 934.50,301.78 935.00,300.26 935.50,300.13 936.00,300.16 936.50,299.27 937.00,298.23 937.50,297.07 938.00,296.68 938.50,296.94 939.00,295.44 939.50,295.42 940.00,294.70 940.50,294.65 941.00,293.92 941.50,292.40 942.00,291.32 942.50,291.63 943.00,291.86 943.50,292.10 944.00,292.46 944.50,292.53 945.00,290.95 945.50,292.41 946.00,292.48 946.50,292.70 947.00,292.28 947.50,291.86 948.00,293.01 948.50,293.05 949.00,292.94 949.50,293.47" fill="none" stroke="#000" stroke-width="3.6" stroke-linejoin="round"/><defs><linearGradient id="rg" x1="0" y1="402" x2="0" y2="422" gradientUnits="userSpaceOnUse"><stop offset="0" stop-color="#fff"/><stop offset="1" stop-color="#A7B1C4"/></linearGradient></defs><path d="M107,421 L107.00,414.30 L110.60,414.10 L123.30,412.40 L140.30,411.60 L151.60,411.60 L162.90,415.00 L170.00,413.70 L184.00,412.40 L195.30,411.30 L202.40,408.80 L206.60,409.00 L213.00,411.00 L216.50,409.90 L219.30,411.00 L226.40,409.90 L237.70,407.30 L242.60,406.40 L249.20,407.30 L256.90,412.00 L266.10,411.30 L270.30,413.40 L275.30,412.40 L285.20,409.90 L296.50,408.80 L302.10,410.20 L313.40,407.30 L321.90,407.30 L331.70,405.60 L341.60,407.30 L345.90,406.50 L352.90,407.10 L365.60,405.90 L376.90,407.80 L383.50,407.80 L389.10,405.90 L406.00,404.90 L411.70,405.60 L420.20,405.60 L434.30,404.90 L441.30,405.60 L444.10,406.60 L456.90,406.80 L466.70,407.80 L472.40,409.20 L476.60,407.80 L487.90,406.40 L499.20,408.50 L504.80,410.60 L511.90,411.00 L514.20,411.30 L519.90,410.60 L524.10,411.60 L531.20,414.80 L538.20,413.70 L545.30,415.10 L550.90,415.30 L555.20,414.10 L566.50,413.40 L579.20,413.10 L582.00,413.80 L590.40,411.60 L600.30,412.00 L608.80,413.40 L622.90,413.40 L634.20,413.00 L638.40,412.00 L645.00,412.00 L649.20,411.60 L661.90,413.40 L673.20,413.00 L681.70,414.10 L687.30,412.40 L693.00,413.10 L711.30,413.00 L715.60,415.80 L723.50,414.40 L729.70,414.50 L736.70,415.50 L745.20,414.10 L758.00,414.80 L769.20,415.80 L774.80,415.50 L779.10,417.20 L785.00,417.90 L789.90,418.10 L798.30,416.40 L805.40,416.50 L808.90,417.80 L815.30,416.50 L822.30,417.80 L830.80,417.20 L839.30,415.50 L844.90,413.80 L854.80,412.70 L860.40,413.40 L867.50,412.00 L878.80,411.00 L885.80,412.30 L897.10,413.70 L902.80,413.70 L912.70,411.60 L918.50,412.90 L929.60,411.50 L936.30,410.70 L942.90,409.00 L950.00,409.00 L950,421 Z" fill="url(#rg)"/><polyline points="107.00,414.30 110.60,414.10 123.30,412.40 140.30,411.60 151.60,411.60 162.90,415.00 170.00,413.70 184.00,412.40 195.30,411.30 202.40,408.80 206.60,409.00 213.00,411.00 216.50,409.90 219.30,411.00 226.40,409.90 237.70,407.30 242.60,406.40 249.20,407.30 256.90,412.00 266.10,411.30 270.30,413.40 275.30,412.40 285.20,409.90 296.50,408.80 302.10,410.20 313.40,407.30 321.90,407.30 331.70,405.60 341.60,407.30 345.90,406.50 352.90,407.10 365.60,405.90 376.90,407.80 383.50,407.80 389.10,405.90 406.00,404.90 411.70,405.60 420.20,405.60 434.30,404.90 441.30,405.60 444.10,406.60 456.90,406.80 466.70,407.80 472.40,409.20 476.60,407.80 487.90,406.40 499.20,408.50 504.80,410.60 511.90,411.00 514.20,411.30 519.90,410.60 524.10,411.60 531.20,414.80 538.20,413.70 545.30,415.10 550.90,415.30 555.20,414.10 566.50,413.40 579.20,413.10 582.00,413.80 590.40,411.60 600.30,412.00 608.80,413.40 622.90,413.40 634.20,413.00 638.40,412.00 645.00,412.00 649.20,411.60 661.90,413.40 673.20,413.00 681.70,414.10 687.30,412.40 693.00,413.10 711.30,413.00 715.60,415.80 723.50,414.40 729.70,414.50 736.70,415.50 745.20,414.10 758.00,414.80 769.20,415.80 774.80,415.50 779.10,417.20 785.00,417.90 789.90,418.10 798.30,416.40 805.40,416.50 808.90,417.80 815.30,416.50 822.30,417.80 830.80,417.20 839.30,415.50 844.90,413.80 854.80,412.70 860.40,413.40 867.50,412.00 878.80,411.00 885.80,412.30 897.10,413.70 902.80,413.70 912.70,411.60 918.50,412.90 929.60,411.50 936.30,410.70 942.90,409.00 950.00,409.00" fill="none" stroke="#808FAB" stroke-width="1.5"/><line x1="106" y1="421.1" x2="950" y2="421.1" stroke="#222" stroke-width="1.6"/><rect x="102.6" y="404.3" width="7.8" height="15" rx="2.6" ry="2.6" fill="#fff" stroke="#1e1e1e" stroke-width="1.25"/><path d="M106.5,402.2 L107.9,404.2 L105.1,404.2 Z" fill="#1e1e1e"/><rect x="105.0" y="407" width="1" height="9.8" fill="#1e1e1e"/><rect x="107.0" y="407" width="1" height="9.8" fill="#1e1e1e"/><rect x="946.6" y="404.3" width="7.8" height="15" rx="2.6" ry="2.6" fill="#fff" stroke="#1e1e1e" stroke-width="1.25"/><path d="M950.5,402.2 L951.9,404.2 L949.1,404.2 Z" fill="#1e1e1e"/><rect x="949.0" y="407" width="1" height="9.8" fill="#1e1e1e"/><rect x="951.0" y="407" width="1" height="9.8" fill="#1e1e1e"/></svg>
<div class="a" style="left:-1px;width:992px;text-align:center;top:40px;font-size:20px;font-weight:bold;transform-origin:50% 17.6px;transform:scaleY(0.93);">COP REER vs Latam peers</div>
<div class="a" style="left:349px;top:68px;width:600px;height:16px;background:#fff;font-size:14px;line-height:16px;font-weight:bold"><span style="color:#000"><div class="ll" style="border-bottom-color:#000"></div> cop</span> <span style="color:#ff0000"><div class="ll" style="border-bottom-color:#ff0000"></div> peers</span></div>
<div class="yl" style="top:65px">200</div>
<div class="yl" style="top:103px">180</div>
<div class="yl" style="top:141px">160</div>
<div class="yl" style="top:180px">140</div>
<div class="yl" style="top:218px">120</div>
<div class="yl" style="top:256px">100</div>
<div class="yl" style="top:294px">80</div>
<div class="yl" style="top:333px">60</div>
<div class="yl" style="top:371px">40</div>
<div class="xl" style="left:276.5px">2010</div>
<div class="xl" style="left:678.5px">2020</div>
<div class="a" style="left:50.2px;top:245px;font-size:13.6px;-webkit-text-stroke:0.15px #000;transform:translate(-50%,-50%) rotate(-90deg);">Price</div>
<div style="position:absolute;left:107px;top:357px;width:31px;height:19px;border:1px solid #767676;border-radius:2px;background:#fff;"><svg width="31" height="19" style="position:absolute;left:0;top:0"><g transform="translate(-108,-358)"><rect x="114" y="362" width="1" height="10" fill="#f4b350"/><rect x="115" y="361.8" width="1" height="10.2" fill="#101050"/><rect x="116" y="362" width="1" height="10" fill="#c8ffff"/><path d="M112.3,366.3 L115.2,362.6" stroke="#1a1a1a" stroke-width="1.1" fill="none"/></g></svg></div>
</body></html>
